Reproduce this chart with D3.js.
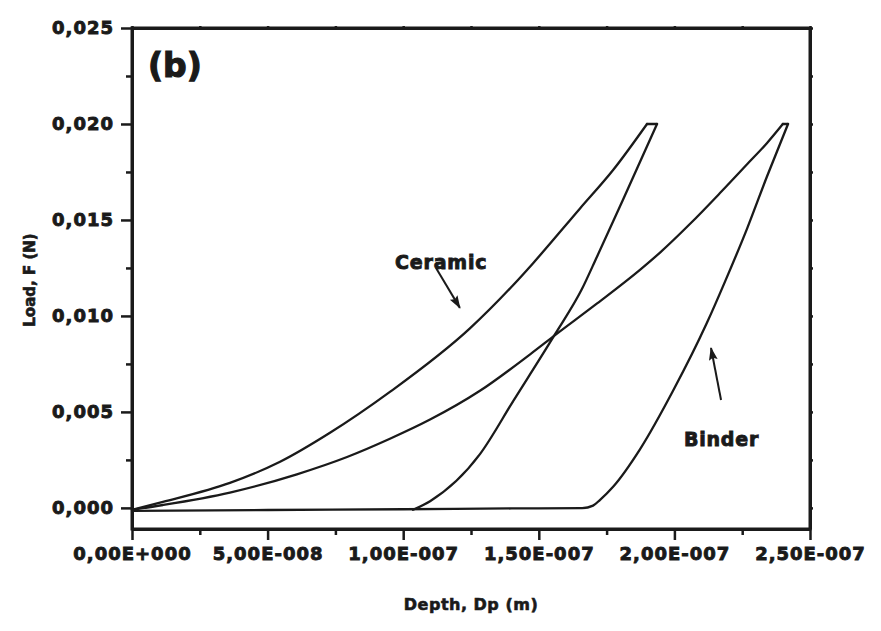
<!DOCTYPE html>
<html>
<head>
<meta charset="utf-8">
<script src="https://cdn.jsdelivr.net/npm/d3@7"></script>
<style>
  html, body { margin: 0; padding: 0; background: #fff; }
  svg text { font-family: "DejaVu Sans", sans-serif; font-weight: bold; fill: #1a1a1a; }
</style>
</head>
<body>
<svg id="chart" width="881" height="631"></svg>
<script>
// ---- data (depth in units of 1e-7 m, load in N) ----
const ceramicLoadDepth = [0, 0.114, 0.361, 0.546, 0.730, 0.951, 1.246, 1.405, 1.479, 1.652, 1.774, 1.899];
const ceramicLoadForce = [-0.0001, 0.00031, 0.00130, 0.00240, 0.00391, 0.00604, 0.00935, 0.01160, 0.01275, 0.01560, 0.01760, 0.0200];
const ceramicPeakDepth = [1.899, 1.936];
const ceramicPeakForce = [0.0200, 0.0200];
const ceramicUnloadDepth = [1.036, 1.099, 1.283, 1.405, 1.560, 1.659, 1.715, 1.810, 1.936];
const ceramicUnloadForce = [-0.0001, 0.00035, 0.0028, 0.00555, 0.00905, 0.01140, 0.01310, 0.01604, 0.0200];

const binderLoadDepth = [0, 0.114, 0.361, 0.608, 0.793, 0.951, 1.099, 1.283, 1.468, 1.560, 1.715, 1.873, 1.947, 2.058, 2.168, 2.268, 2.341, 2.400];
const binderLoadForce = [-0.0001, 0.00015, 0.00080, 0.00175, 0.00265, 0.00360, 0.00460, 0.00610, 0.00800, 0.00900, 0.01065, 0.01240, 0.01330, 0.01480, 0.01640, 0.01790, 0.01900, 0.0200];
const binderPeakDepth = [2.400, 2.419];
const binderPeakForce = [0.0200, 0.0200];
const binderUnloadDepth = [0, 0.50, 1.00, 1.40, 1.660, 1.700, 1.726, 1.774, 1.873, 1.995, 2.120, 2.187, 2.268, 2.341, 2.419];
const binderUnloadForce = [-0.00016, -0.00011, -0.00007, -0.00003, -0.00001, 0.00012, 0.00042, 0.00110, 0.00305, 0.00610, 0.00964, 0.01180, 0.01455, 0.01725, 0.0200];

const xTickValues = [0, 5e-8, 1e-7, 1.5e-7, 2e-7, 2.5e-7];
const yTickValues = [0, 0.005, 0.010, 0.015, 0.020, 0.025];

const panelLabel = "(b)";
const xTitle = "Depth, Dp (m)";
const yTitle = "Load, F (N)";
const seriesNames = ["Ceramic", "Binder"];

// ---- layout ----
const svg = d3.select("#chart");
const L = 132, R = 810, T = 28, B = 529;
const x = d3.scaleLinear().domain([0, 2.5e-7]).range([L, R]);
const y = d3.scaleLinear().domain([-0.0011, 0.025]).range([B, T]);
const ink = "#1a1a1a";

const fmtX = v => {
  if (v === 0) return "0,00E+000";
  const [m, e] = v.toExponential(2).split("e");
  const en = parseInt(e, 10);
  return m.replace(".", ",") + "E" + (en < 0 ? "-" : "+") + String(Math.abs(en)).padStart(3, "0");
};
const fmtY = v => d3.format(".3f")(v).replace(".", ",");

const minorX = d3.range(0, 5).map(i => 2.5e-8 + i * 5e-8);
const minorY = d3.range(0, 5).map(i => 0.0025 + i * 0.005);
const allX = d3.range(0, 11).map(i => i * 2.5e-8);
const allY = d3.range(0, 11).map(i => i * 0.0025);

function styleAxis(g) {
  g.selectAll("path.domain").attr("stroke", ink).attr("stroke-width", 3);
  g.selectAll(".tick line").attr("stroke", ink).attr("stroke-width", 2.5);
}
function styleLabels(g) {
  g.selectAll(".tick text").attr("font-size", 18).attr("letter-spacing", 1)
    .style("font-family", "DejaVu Sans").style("font-weight", "bold").attr("fill", ink)
    .attr("stroke", ink).attr("stroke-width", 0.9);
}

// bottom axis major
const gb = svg.append("g").attr("transform", `translate(0,${B})`)
  .call(d3.axisBottom(x).tickValues(xTickValues).tickFormat(fmtX).tickSize(11).tickSizeOuter(0));
styleAxis(gb); styleLabels(gb);
gb.selectAll(".tick text").attr("y", 18).attr("dy", "0.72em");
// bottom axis minor
const gbm = svg.append("g").attr("transform", `translate(0,${B})`)
  .call(d3.axisBottom(x).tickValues(minorX).tickFormat("").tickSize(6).tickSizeOuter(0));
styleAxis(gbm); gbm.select("path.domain").remove();

// left axis major
const gl = svg.append("g").attr("transform", `translate(${L},0)`)
  .call(d3.axisLeft(y).tickValues(yTickValues).tickFormat(fmtY).tickSize(11).tickSizeOuter(0));
styleAxis(gl); styleLabels(gl);
gl.selectAll(".tick text").attr("x", -18);
const glm = svg.append("g").attr("transform", `translate(${L},0)`)
  .call(d3.axisLeft(y).tickValues(minorY).tickFormat("").tickSize(6).tickSizeOuter(0));
styleAxis(glm); glm.select("path.domain").remove();

// top axis
const gt = svg.append("g").attr("transform", `translate(0,${T})`)
  .call(d3.axisTop(x).tickValues(allX).tickFormat("").tickSize(2).tickSizeOuter(0));
styleAxis(gt);
// right axis
const gr = svg.append("g").attr("transform", `translate(${R},0)`)
  .call(d3.axisRight(y).tickValues(allY).tickFormat("").tickSize(3).tickSizeOuter(0));
styleAxis(gr);
svg.append("rect").attr("x", L).attr("y", T).attr("width", R - L).attr("height", B - T)
  .attr("fill", "none").attr("stroke", ink).attr("stroke-width", 3);

// ---- curves ----
const line = d3.line().x(d => x(d[0] * 1e-7)).y(d => y(d[1])).curve(d3.curveMonotoneX);
const zip = (a, b) => a.map((v, i) => [v, b[i]]);
const paths = [
  zip(ceramicLoadDepth, ceramicLoadForce),
  zip(ceramicPeakDepth, ceramicPeakForce),
  zip(ceramicUnloadDepth, ceramicUnloadForce),
  zip(binderLoadDepth, binderLoadForce),
  zip(binderPeakDepth, binderPeakForce),
  zip(binderUnloadDepth, binderUnloadForce)
];
svg.append("g").selectAll("path").data(paths).join("path")
  .attr("d", line).attr("fill", "none").attr("stroke", ink).attr("stroke-width", 2.3)
  .attr("stroke-linejoin", "round").attr("stroke-linecap", "round");

// ---- annotations ----
svg.append("defs").append("marker").attr("id", "ah").attr("viewBox", "0 0 12 10")
  .attr("refX", 11).attr("refY", 5).attr("markerWidth", 14).attr("markerHeight", 11)
  .attr("markerUnits", "userSpaceOnUse").attr("orient", "auto")
  .append("path").attr("d", "M0,1 L12,5 L0,9 L2,5 Z").attr("fill", ink);

function arrow(x1, y1, x2, y2) {
  svg.append("line").attr("x1", x(x1 * 1e-7)).attr("y1", y(y1)).attr("x2", x(x2 * 1e-7)).attr("y2", y(y2))
    .attr("stroke", ink).attr("stroke-width", 2).attr("marker-end", "url(#ah)");
}
arrow(1.121, 0.0125, 1.209, 0.01042);
arrow(2.172, 0.00562, 2.135, 0.00833);

svg.append("text").attr("x", x(0.970e-7)).attr("y", y(0.01245)).attr("font-size", 19)
  .attr("letter-spacing", 0.8).attr("stroke", ink).attr("stroke-width", 0.9).text(seriesNames[0]);
svg.append("text").attr("x", x(2.035e-7)).attr("y", y(0.00323)).attr("font-size", 19)
  .attr("letter-spacing", 0.8).attr("stroke", ink).attr("stroke-width", 0.9).text(seriesNames[1]);

svg.append("text").attr("x", 148).attr("y", 77).attr("font-size", 33)
  .attr("stroke", ink).attr("stroke-width", 1.2).text(panelLabel);

// axis titles
svg.append("text").attr("x", (L + R) / 2).attr("y", 610).attr("text-anchor", "middle")
  .attr("font-size", 16).attr("letter-spacing", 0.5).attr("stroke", ink).attr("stroke-width", 0.6).text(xTitle);
svg.append("text").attr("transform", `translate(35,280) rotate(-90)`).attr("text-anchor", "middle")
  .attr("font-size", 15).attr("stroke", ink).attr("stroke-width", 0.6).text(yTitle);
</script>
</body>
</html>
